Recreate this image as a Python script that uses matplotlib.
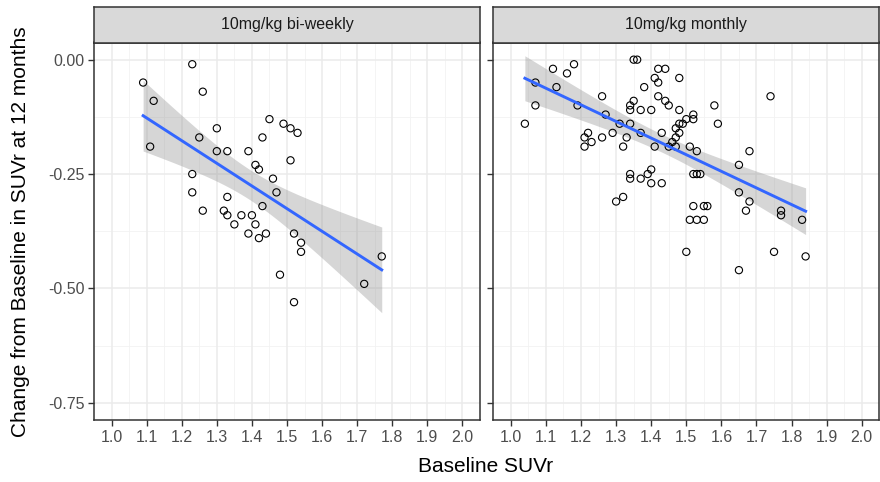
import numpy as np
import matplotlib
matplotlib.use("Agg")
import matplotlib.pyplot as plt

plt.rcParams['font.family'] = ['Liberation Sans', 'DejaVu Sans']

panel_titles = ["10mg/kg bi-weekly", "10mg/kg monthly"]

# baseline SUVr / change at 12 months, bi-weekly dosing
biweekly_x = [1.09, 1.23, 1.12, 1.26, 1.11, 1.30, 1.25, 1.30, 1.33, 1.39,
              1.45, 1.49, 1.51, 1.53, 1.43, 1.51, 1.41, 1.42, 1.23, 1.46,
              1.23, 1.33, 1.47, 1.43, 1.26, 1.32, 1.33, 1.37, 1.40, 1.35,
              1.41, 1.39, 1.42, 1.44, 1.52, 1.54, 1.54, 1.48, 1.52, 1.72,
              1.77]
biweekly_y = [-0.05, -0.01, -0.09, -0.07, -0.19, -0.15, -0.17, -0.20, -0.20, -0.20,
              -0.13, -0.14, -0.15, -0.16, -0.17, -0.22, -0.23, -0.24, -0.25, -0.26,
              -0.29, -0.30, -0.29, -0.32, -0.33, -0.33, -0.34, -0.34, -0.34, -0.36,
              -0.36, -0.38, -0.39, -0.38, -0.38, -0.40, -0.42, -0.47, -0.53, -0.49,
              -0.43]

# monthly dosing
monthly_x = [1.35, 1.36, 1.12, 1.18, 1.16, 1.42, 1.44, 1.41, 1.42, 1.48,
             1.07, 1.13, 1.38, 1.26, 1.42, 1.44, 1.45, 1.74, 1.58, 1.07,
             1.19, 1.35, 1.34, 1.34, 1.37, 1.40, 1.48, 1.52, 1.52, 1.50,
             1.49, 1.48, 1.59, 1.04, 1.27, 1.31, 1.34, 1.47, 1.48, 1.47,
             1.46, 1.47, 1.45, 1.43, 1.37, 1.29, 1.33, 1.26, 1.22, 1.21,
             1.23, 1.21, 1.32, 1.41, 1.51, 1.53, 1.68, 1.65, 1.40, 1.39,
             1.34, 1.34, 1.37, 1.40, 1.43, 1.52, 1.53, 1.54, 1.65, 1.68,
             1.67, 1.32, 1.30, 1.52, 1.55, 1.56, 1.51, 1.53, 1.55, 1.77,
             1.77, 1.83, 1.50, 1.75, 1.84, 1.65]
monthly_y = [0.00, 0.00, -0.02, -0.01, -0.03, -0.02, -0.02, -0.04, -0.05, -0.04,
             -0.05, -0.06, -0.06, -0.08, -0.08, -0.09, -0.10, -0.08, -0.10, -0.10,
             -0.10, -0.09, -0.10, -0.11, -0.11, -0.11, -0.11, -0.12, -0.13, -0.13,
             -0.14, -0.14, -0.14, -0.14, -0.12, -0.14, -0.14, -0.15, -0.16, -0.17,
             -0.18, -0.19, -0.19, -0.16, -0.16, -0.16, -0.17, -0.17, -0.16, -0.17,
             -0.18, -0.19, -0.19, -0.19, -0.19, -0.20, -0.20, -0.23, -0.24, -0.25,
             -0.25, -0.26, -0.26, -0.27, -0.27, -0.25, -0.25, -0.25, -0.29, -0.31,
             -0.33, -0.30, -0.31, -0.32, -0.32, -0.32, -0.35, -0.35, -0.35, -0.33,
             -0.34, -0.35, -0.42, -0.42, -0.43, -0.46]

x_breaks = np.round(np.arange(1.0, 2.01, 0.1), 1)
y_breaks = [0.0, -0.25, -0.5, -0.75]


def t_quantile(p, df):
    # Cornish-Fisher expansion of Student t around the normal quantile
    z = {0.975: 1.959964}[p]
    g1 = (z**3 + z) / 4
    g2 = (5 * z**5 + 16 * z**3 + 3 * z) / 96
    g3 = (3 * z**7 + 19 * z**5 + 17 * z**3 - 15 * z) / 384
    return z + g1 / df + g2 / df**2 + g3 / df**3


def lm_band(x, y, n_grid=80):
    x = np.asarray(x)
    y = np.asarray(y)
    n = len(x)
    slope, intercept = np.polyfit(x, y, 1)
    resid = y - (intercept + slope * x)
    s = np.sqrt(np.sum(resid**2) / (n - 2))
    sxx = np.sum((x - x.mean())**2)
    xs = np.linspace(x.min(), x.max(), n_grid)
    fit = intercept + slope * xs
    se = s * np.sqrt(1 / n + (xs - x.mean())**2 / sxx)
    t = t_quantile(0.975, n - 2)
    return xs, fit, fit - t * se, fit + t * se


fig = plt.figure(figsize=(8.8, 4.82), dpi=100)
W, H = 880, 482
panel_left = [94, 493.3]
panel_w = 386
panel_top, panel_bottom = 42.5, 420
strip_top = 6.7

datasets = [(biweekly_x, biweekly_y), (monthly_x, monthly_y)]
for i, (xv, yv) in enumerate(datasets):
    ax = fig.add_axes([panel_left[i] / W, 1 - panel_bottom / H,
                       panel_w / W, (panel_bottom - panel_top) / H])
    ax.set_xlim(0.95, 2.05)
    ax.set_ylim(-0.7875, 0.0375)

    # grid: major and minor lines like theme_bw
    for xb in np.arange(1.05, 2.0, 0.1):
        ax.axvline(xb, color="#F2F2F2", lw=0.6, zorder=0)
    for yb in [-0.125, -0.375, -0.625]:
        ax.axhline(yb, color="#F2F2F2", lw=0.6, zorder=0)
    for xb in x_breaks:
        ax.axvline(xb, color="#EBEBEB", lw=1.1, zorder=0)
    for yb in y_breaks:
        ax.axhline(yb, color="#EBEBEB", lw=1.1, zorder=0)

    xs, fit, lo, hi = lm_band(xv, yv)
    ax.fill_between(xs, lo, hi, color="#999999", alpha=0.4, lw=0, zorder=1)
    ax.scatter(xv, yv, s=27, facecolors="none", edgecolors="black",
               linewidths=0.8, zorder=2)
    ax.plot(xs, fit, color="#3366FF", lw=2.1, zorder=3)

    ax.set_xticks(x_breaks)
    ax.set_xticklabels([f"{b:.1f}" for b in x_breaks])
    ax.set_yticks(y_breaks)
    if i == 0:
        ax.set_yticklabels([f"{b:.2f}" for b in y_breaks])
    else:
        ax.set_yticklabels([])
        ax.tick_params(axis="y", length=0)
    ax.tick_params(axis="both", direction="out", length=4, width=1,
                   color="#333333", labelcolor="#4D4D4D", labelsize=11.5, pad=3)
    for sp in ax.spines.values():
        sp.set_color("#333333")
        sp.set_linewidth(1.1)
    ax.set_facecolor("white")

    # facet strip
    sax = fig.add_axes([panel_left[i] / W, 1 - panel_top / H,
                        panel_w / W, (panel_top - strip_top) / H])
    sax.set_facecolor("#D9D9D9")
    sax.set_xticks([])
    sax.set_yticks([])
    for sp in sax.spines.values():
        sp.set_color("#333333")
        sp.set_linewidth(1.1)
    sax.text(0.5, 0.5, panel_titles[i], ha="center", va="center",
             fontsize=11.5, color="#1A1A1A", transform=sax.transAxes)

fig.text(486 / W, 1 - 466 / H, "Baseline SUVr", ha="center", va="center",
         fontsize=15, color="black")
fig.text(21 / W, 1 - 232 / H, "Change from Baseline in SUVr at 12 months",
         ha="center", va="center", rotation=90, fontsize=15, color="black")

fig.savefig("out.png", dpi=100)
